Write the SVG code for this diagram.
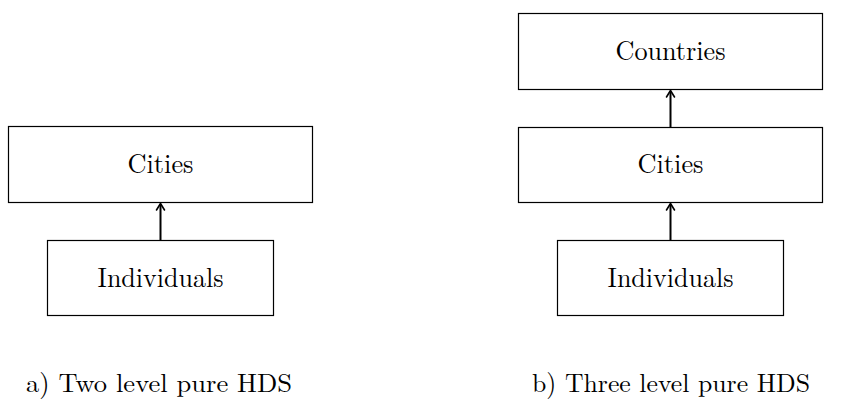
<svg xmlns="http://www.w3.org/2000/svg" width="848" height="401" viewBox="0 0 848 401">
<style>
.box{fill:#fff;stroke:#000;stroke-width:1.2}
.lbl{font-family:"Latin Modern Roman","CMU Serif","Liberation Serif","Times New Roman",serif;font-size:27px;fill:#000;text-anchor:middle}
.cap{font-family:"Latin Modern Roman","CMU Serif","Liberation Serif","Times New Roman",serif;font-size:26px;fill:#000}
.edge{stroke:#000;stroke-width:2;fill:none}
.head{stroke:#000;stroke-width:1.6;fill:none;stroke-linecap:round;stroke-linejoin:round}
</style>
<rect width="848" height="401" fill="#fff"/>
<g id="a-cities"><rect class="box" x="8.5" y="126.5" width="304" height="76"/><text class="lbl" x="160.5" y="173" textLength="66" lengthAdjust="spacingAndGlyphs">Cities</text></g>
<g id="a-individuals"><rect class="box" x="47.5" y="240.5" width="226" height="75"/><text class="lbl" x="160.5" y="287" textLength="126" lengthAdjust="spacingAndGlyphs">Individuals</text></g>
<g id="b-countries"><rect class="box" x="518.5" y="13.5" width="304" height="76"/><text class="lbl" x="670.5" y="60" textLength="110" lengthAdjust="spacingAndGlyphs">Countries</text></g>
<g id="b-cities"><rect class="box" x="518.5" y="127.5" width="304" height="75"/><text class="lbl" x="670.5" y="173" textLength="66" lengthAdjust="spacingAndGlyphs">Cities</text></g>
<g id="b-individuals"><rect class="box" x="557.5" y="240.5" width="226" height="75"/><text class="lbl" x="670.5" y="287" textLength="126" lengthAdjust="spacingAndGlyphs">Individuals</text></g>
<g id="connectors">
<line class="edge" x1="160.5" y1="240" x2="160.5" y2="204"/>
<path class="head" d="M156.5 210 Q159 206 160.5 203.5 Q162 206 164.5 210"/>
<line class="edge" x1="670.5" y1="240" x2="670.5" y2="204"/>
<path class="head" d="M666.5 210 Q669 206 670.5 203.5 Q672 206 674.5 210"/>
<line class="edge" x1="670.5" y1="127" x2="670.5" y2="91"/>
<path class="head" d="M666.5 97 Q669 93 670.5 90.5 Q672 93 674.5 97"/>
</g>
<text class="cap" x="26" y="392" textLength="266" lengthAdjust="spacingAndGlyphs">a) Two level pure HDS</text>
<text class="cap" x="532" y="392" textLength="278" lengthAdjust="spacingAndGlyphs">b) Three level pure HDS</text>
</svg>
